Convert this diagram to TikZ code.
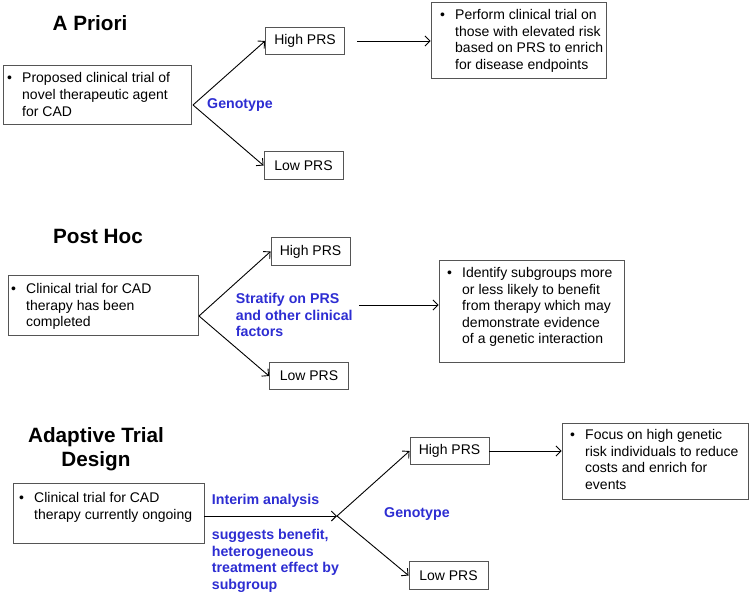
\documentclass[tikz,border=0pt]{standalone}
\usepackage{fontspec}
\setmainfont{Liberation Sans}
\usetikzlibrary{arrows.meta}
\definecolor{lblblue}{RGB}{45,45,210}
\definecolor{boxgray}{RGB}{85,85,85}
\newcommand\bitem[1]{\makebox[15pt][l]{\textbullet}\begin{tabular}[t]{@{}l@{}}#1\end{tabular}}
\begin{document}
\begin{tikzpicture}[x=1pt,y=-1pt,
  box/.style={draw=boxgray, line width=0.9pt, inner sep=0pt},
  btext/.style={anchor=base west, inner sep=0pt, font=\fontsize{14}{16.6}\selectfont},
  prs/.style={box, minimum width=79pt, minimum height=27.5pt, font=\fontsize{14}{16.6}\selectfont},
  lbl/.style={text=lblblue, font=\bfseries\fontsize{14.2}{16.6}\selectfont, align=left, inner sep=0pt},
  ttl/.style={font=\bfseries\fontsize{20.7}{24}\selectfont, align=center, inner sep=0pt},
  arr/.style={-{Straight Barb[length=5pt,width=10pt]}, line width=0.9pt},
  ln/.style={line width=0.9pt}]
\useasboundingbox (0,0) rectangle (750,594);

% ---------- A Priori ----------
\node[ttl] (t1) at (90,23) {A Priori};
\node[box, minimum width=188pt, minimum height=59pt] (L1) at (97,94.5) {};
\node[btext] (L1t) at (7,83) {\bitem{Proposed clinical trial of\\novel therapeutic agent\\for CAD}};
\node[prs] (H1) at (305,41) {High PRS};
\node[prs] (W1) at (303.5,165.5) {Low PRS};
\node[box, minimum width=175pt, minimum height=76pt] (R1) at (518.5,40) {};
\node[btext] (R1t) at (440,19.5) {\bitem{Perform clinical trial on\\those with elevated risk\\based on PRS to enrich\\for disease endpoints}};
\node[lbl, anchor=base west] (g1) at (207,108.5) {Genotype};
\coordinate (f1) at (193,105);
\coordinate (a1) at (357,41);
\draw[arr] (f1) -- (H1.west);
\draw[arr] (f1) -- (W1.west);
\draw[arr] (a1) -- (R1.west |- a1);

% ---------- Post Hoc ----------
\node[ttl] (t2) at (98,236) {Post Hoc};
\node[box, minimum width=190pt, minimum height=60pt] (L2) at (103,305) {};
\node[btext] (L2t) at (11,293.5) {\bitem{Clinical trial for CAD\\therapy has been\\completed}};
\node[prs] (H2) at (310.5,251.5) {High PRS};
\node[prs] (W2) at (309,376) {Low PRS};
\node[box, minimum width=185pt, minimum height=102pt] (R2) at (531.5,311) {};
\node[btext] (R2t) at (447,277.5) {\bitem{Identify subgroups more\\or less likely to benefit\\from therapy which may\\demonstrate evidence\\of a genetic interaction}};
\node[lbl, anchor=north west] (s2) at (235.7,293) {Stratify on PRS\\and other clinical\\factors};
\coordinate (f2) at (199,316);
\coordinate (a2) at (359,305);
\draw[arr] (f2) -- (H2.west);
\draw[arr] (f2) -- (W2.west);
\draw[arr] (a2) -- (R2.west |- a2);

% ---------- Adaptive Trial Design ----------
\node[ttl, anchor=north] (t3) at (96,427) {Adaptive Trial\\Design};
\node[box, minimum width=191pt, minimum height=60pt] (L3) at (108.5,513) {};
\node[btext] (L3t) at (19,502.5) {\bitem{Clinical trial for CAD\\therapy currently ongoing}};
\node[prs] (H3) at (449.5,451) {High PRS};
\node[prs] (W3) at (448.5,575.5) {Low PRS};
\node[box, minimum width=186pt, minimum height=76pt] (R3) at (655,461) {};
\node[btext] (R3t) at (570,439.5) {\bitem{Focus on high genetic\\risk individuals to reduce\\costs and enrich for\\events}};
\node[lbl, anchor=base west] (i3) at (211.7,504.3) {Interim analysis};
\node[lbl, anchor=north west] (s3) at (211.7,529) {suggests benefit,\\heterogeneous\\treatment effect by\\subgroup};
\node[lbl, anchor=base west] (g3) at (384,517) {Genotype};
\coordinate (f3) at (337,516);
\draw[arr] (L3.east |- f3) -- (f3);
\draw[arr] (f3) -- (H3.west);
\draw[arr] (f3) -- (W3.west);
\draw[arr] (H3.east) -- (R3.west |- H3.east);
\end{tikzpicture}
\end{document}
